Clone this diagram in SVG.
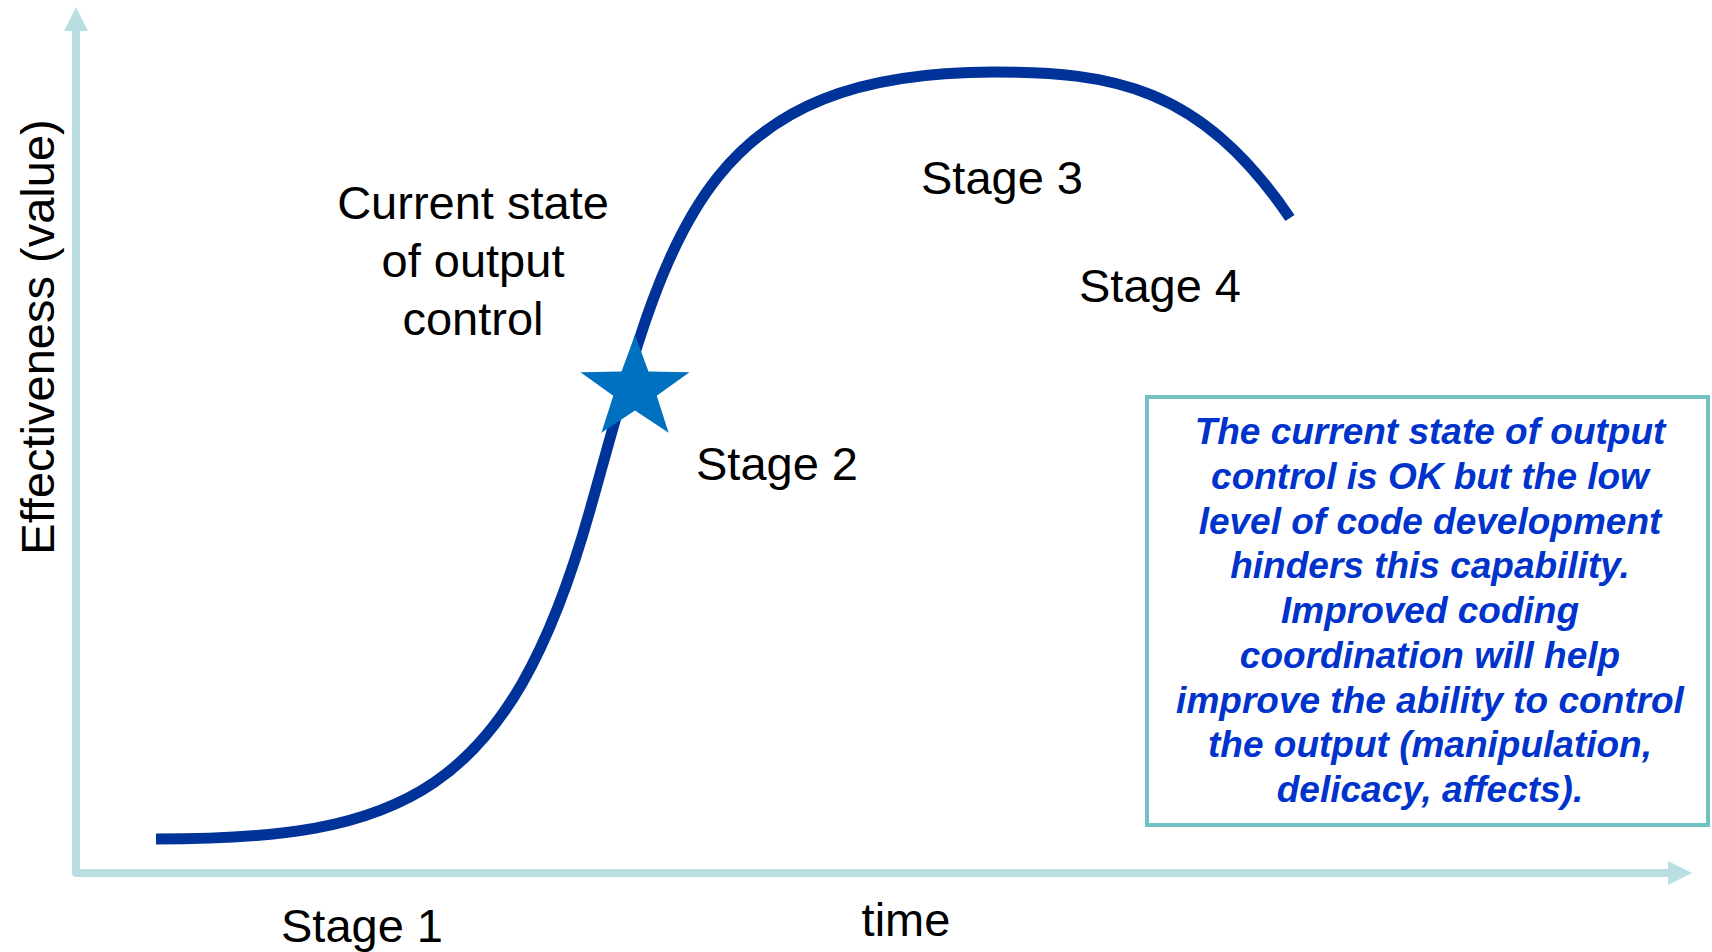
<svg xmlns="http://www.w3.org/2000/svg" width="1712" height="952" viewBox="0 0 1712 952">
<style>
.lbl{font-family:"Liberation Sans",Arial,sans-serif;font-size:47px;fill:#000;text-anchor:middle}
.note{font-family:"Liberation Sans",Arial,sans-serif;font-size:37px;font-weight:bold;font-style:italic;fill:#0033CC;text-anchor:middle}
.axis{fill:none;stroke:#B9DFE2;stroke-width:8;stroke-linejoin:round}
.head{fill:#B9DFE2}
</style>
<rect width="1712" height="952" fill="#fff"/>
<g id="axes">
<polyline class="axis" points="76,30 76,873 1670,873"/>
<polygon class="head" points="76,7 64,31 88,31"/>
<polygon class="head" points="1692,873 1668,861 1668,885"/>
</g>
<g id="curve">
<path d="M156,839 C400,839 509,798 590,510 C666,241 694,72 994,72 C1110,72 1200,85 1290,218" fill="none" stroke="#003399" stroke-width="11"/>
</g>
<g id="star">
<polygon fill="#0070C0" transform="translate(635,389) scale(1.06,1)" points="0,-54 12.7,-17.5 51.4,-16.7 20.5,6.7 31.7,43.7 0,21.6 -31.7,43.7 -20.5,6.7 -51.4,-16.7 -12.7,-17.5"/>
</g>
<g id="labels">
<text class="lbl" transform="translate(54,337) rotate(-90)">Effectiveness (value)</text>
<text class="lbl" x="473" y="219">Current state</text>
<text class="lbl" x="473" y="277">of output</text>
<text class="lbl" x="473" y="335">control</text>
<text class="lbl" x="1002" y="194">Stage 3</text>
<text class="lbl" x="1160" y="302">Stage 4</text>
<text class="lbl" x="777" y="480">Stage 2</text>
<text class="lbl" x="362" y="942">Stage 1</text>
<text class="lbl" x="906" y="936">time</text>
</g>
<g id="note">
<rect x="1147" y="397" width="561" height="428" fill="#fff" stroke="#72C2C5" stroke-width="4"/>
<text class="note" x="1430" y="444">The current state of output</text>
<text class="note" x="1430" y="489">control is OK but the low</text>
<text class="note" x="1430" y="534">level of code development</text>
<text class="note" x="1430" y="578">hinders this capability.</text>
<text class="note" x="1430" y="623">Improved coding</text>
<text class="note" x="1430" y="668">coordination will help</text>
<text class="note" x="1430" y="713">improve the ability to control</text>
<text class="note" x="1430" y="757">the output (manipulation,</text>
<text class="note" x="1430" y="802">delicacy, affects).</text>
</g>
</svg>
